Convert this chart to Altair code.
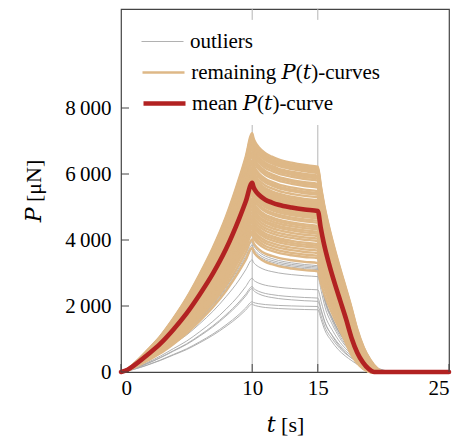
import altair as alt
import pandas as pd

# ---------------- axis ticks / grid ----------------
x_ticks = [0, 10, 15, 25]
y_ticks = [0, 2000, 4000, 6000, 8000]
# vertical grid lines, interrupted where the legend box sits
grid_x = [10, 10, 15, 15]
grid_lo = [0, 10670, 0, 10670]
grid_hi = [7485, 11000, 7485, 11000]

# ---------------- normalised phase shapes ----------------
load_t = [0, 0.5, 1, 2, 3, 4, 5, 6, 7, 8, 9, 9.5, 10]
load_shape = [0, 0.012, 0.035, 0.09, 0.15, 0.225, 0.31, 0.41, 0.52, 0.65, 0.81, 0.9, 1.0]
gray_load_shape = [0, 0.015, 0.04, 0.10, 0.17, 0.25, 0.33, 0.43, 0.54, 0.67, 0.82, 0.91, 1.0]

relax_t = [10.1, 10.25, 10.5, 11, 11.5, 12, 13, 14, 15]
relax_shape = [0.85, 0.72, 0.58, 0.4, 0.3, 0.22, 0.12, 0.05, 0]

unload_u = [0.05, 0.1, 0.2, 0.3, 0.4, 0.5, 0.6, 0.7, 0.8, 0.9, 1.0]
unload_shape = [0.9, 0.81, 0.67, 0.55, 0.44, 0.33, 0.21, 0.12, 0.06, 0.02, 0]
gray_unload_shape = [0.84, 0.68, 0.5, 0.36, 0.26, 0.18, 0.11, 0.065, 0.03, 0.01, 0]

# ---------------- per-curve values: P at t=10, P at t=15, end of unloading ----------------
orange_p10 = [7240, 7170, 7110, 7060, 7000, 6930, 6870, 6830, 6760, 6670, 6610, 6540,
              6420, 6350, 6300, 6200, 6120, 6060, 6000, 5940, 5880, 5830, 5770, 5710,
              5680, 5620, 5560, 5500, 5420, 5380, 5270, 5210, 5140, 5060, 5020, 4930,
              4840, 4750, 4670, 4600, 4530, 4430, 4360, 4270, 4180, 4020, 3770]
orange_p15 = [6220, 6170, 6120, 6080, 6030, 5950, 5900, 5860, 5800, 5700, 5650, 5590,
              5480, 5420, 5370, 5290, 5200, 5150, 5100, 5050, 5000, 4950, 4900, 4850,
              4800, 4750, 4700, 4650, 4580, 4520, 4430, 4380, 4320, 4250, 4190, 4120,
              4040, 3970, 3880, 3820, 3760, 3680, 3600, 3520, 3450, 3300, 3050]
orange_tend = [20.0, 19.98, 19.95, 19.93, 19.9, 19.87, 19.85, 19.83, 19.8, 19.77, 19.75, 19.72,
               19.68, 19.65, 19.62, 19.58, 19.55, 19.52, 19.5, 19.47, 19.45, 19.42, 19.4, 19.38,
               19.35, 19.33, 19.3, 19.28, 19.25, 19.23, 19.2, 19.18, 19.15, 19.13, 19.12, 19.1,
               19.08, 19.07, 19.06, 19.05, 19.04, 19.03, 19.02, 19.02, 19.01, 19.0, 19.0]

gray_p10 = [3950, 3850, 3780, 3720, 3400, 2840, 2590, 2530, 2130, 2060]
gray_p15 = [3220, 3180, 3140, 3100, 2890, 2490, 2240, 2140, 1985, 1885]
gray_tend = [20.6, 20.8, 20.4, 20.9, 20.5, 20.7, 20.3, 20.9, 20.6, 20.2]

mean_p10 = [5730]
mean_p15 = [4880]
mean_tend = [19.3]

assert len(orange_p10) == len(orange_p15) == len(orange_tend)
assert len(gray_p10) == len(gray_p15) == len(gray_tend)

groups = ["outliers", "remaining 𝑃(𝑡)-curves", "mean 𝑃(𝑡)-curve"]
colors = ["#a8a8a8", "#deb887", "#b22222"]
widths = [0.9, 2.4, 4.6]
label_offsets = [6, 5.2, 4.1]


def build(p10s, p15s, tends, lshape, ushape, group, prefix):
    rows = []
    for i, (a, b, te) in enumerate(zip(p10s, p15s, tends)):
        cid = f"{prefix}{i}"
        for t, s in zip(load_t, lshape):
            rows.append((cid, group, t, a * s))
        for t, r in zip(relax_t, relax_shape):
            rows.append((cid, group, t, b + r * (a - b)))
        for u, s in zip(unload_u, ushape):
            rows.append((cid, group, 15 + u * (te - 15), b * s))
        rows.append((cid, group, 25, 0.0))
    return rows


rows = []
rows += build(gray_p10, gray_p15, gray_tend, gray_load_shape, gray_unload_shape, groups[0], "g")
rows += build(orange_p10, orange_p15, orange_tend, load_shape, unload_shape, groups[1], "o")
rows += build(mean_p10, mean_p15, mean_tend, load_shape, unload_shape, groups[2], "m")
df = pd.DataFrame(rows, columns=["curve", "group", "t", "P"])

FONT = "Liberation Serif, DejaVu Serif, serif"

xscale = alt.Scale(domain=[0, 25], nice=False, zero=False)
yscale = alt.Scale(domain=[0, 11000], nice=False, zero=False)

x_enc = alt.X("t:Q", scale=xscale,
              axis=alt.Axis(values=x_ticks, title="𝑡 [s]", grid=False, ticks=False,
                            domain=False, labelPadding=5, titlePadding=16, format="d"))
y_enc = alt.Y("P:Q", scale=yscale,
              axis=alt.Axis(values=y_ticks, title="𝑃 [μN]", grid=False, ticks=False,
                            domain=False, labelPadding=10, titlePadding=19,
                            labelExpr="replace(format(datum.value, ','), ',', '\u2009')"))

grid_df = pd.DataFrame({"t": grid_x, "lo": grid_lo, "hi": grid_hi})
grid = alt.Chart(grid_df).mark_rule(color="#b5b5b5", strokeWidth=1).encode(
    x=alt.X("t:Q", scale=xscale), y=alt.Y("lo:Q", scale=yscale), y2="hi:Q")


def lines(i):
    group = groups[i]
    leg = alt.Legend(title=None, orient="none", legendX=14, legendY=11 + 31 * i,
                     padding=6, symbolType="stroke",
                     symbolSize=1764, symbolStrokeWidth=widths[i], clipHeight=31,
                     labelOffset=label_offsets[i], labelLimit=500, labelFont=FONT,
                     labelFontSize=21, labelColor="black")
    return alt.Chart(df).transform_filter(alt.datum.group == group).mark_line(
        interpolate="monotone", strokeJoin="round", strokeCap="round",
        strokeWidth=widths[i]).encode(
        x=x_enc, y=y_enc,
        color=alt.Color("group:N", scale=alt.Scale(domain=[group], range=[colors[i]]), legend=leg),
        detail="curve:N", order="t:Q")


xt = alt.Chart(pd.DataFrame({"t": x_ticks})).mark_rule(color="#444", strokeWidth=1).encode(
    x=alt.X("t:Q", scale=xscale), y=alt.value(363), y2=alt.value(355))
yt = alt.Chart(pd.DataFrame({"P": y_ticks})).mark_rule(color="#444", strokeWidth=1).encode(
    y=alt.Y("P:Q", scale=yscale), x=alt.value(0), x2=alt.value(8))

chart = alt.layer(grid, lines(0), lines(1), lines(2), xt, yt).resolve_scale(
    color="independent").resolve_legend(color="independent").properties(
    width=328, height=363,
    autosize=alt.AutoSizeParams(type="none"),
    padding={"left": 121, "top": 9, "right": 17, "bottom": 67},
).configure_view(stroke="#444", strokeWidth=1.2).configure_axis(
    labelFont=FONT, labelFontSize=21, labelColor="black",
    titleFont=FONT, titleFontSize=22, titleFontWeight="normal", titleColor="black",
)

chart.save("out.html", embed_options={"renderer": "svg", "actions": False})
